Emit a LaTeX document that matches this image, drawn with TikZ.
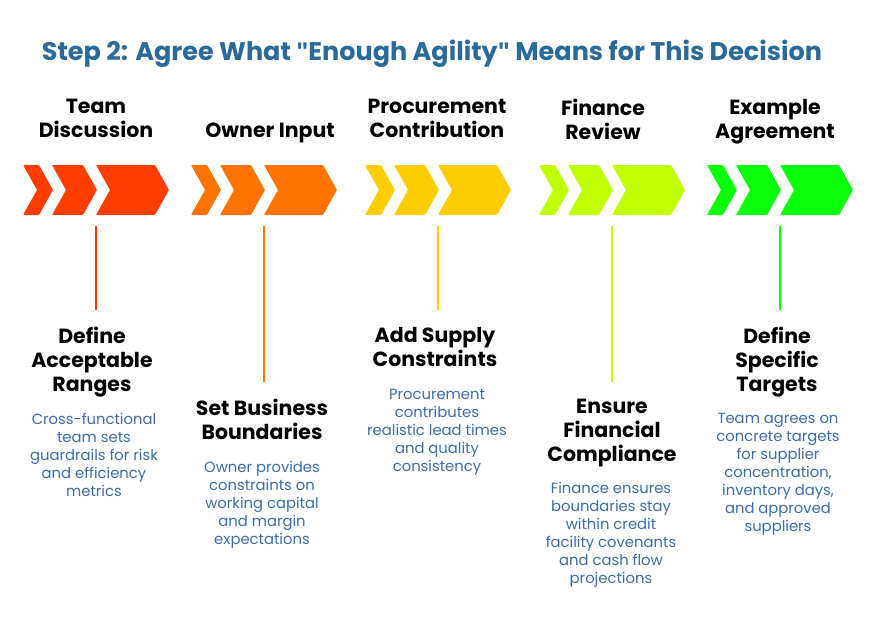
\documentclass[tikz,border=0pt]{standalone}
\usepackage{fontspec}
\setmainfont{Poppins}
\newfontfamily\qfont{Liberation Sans}
\definecolor{c1}{HTML}{FF3D00}
\definecolor{c2}{HTML}{FF7300}
\definecolor{c3}{HTML}{FFCC00}
\definecolor{c4}{HTML}{BFFF00}
\definecolor{c5}{HTML}{0AFF0A}
\definecolor{ttl}{HTML}{2A6A99}
\definecolor{dsc}{HTML}{3A6EA5}
\tikzset{
 hd/.style={anchor=north,inner sep=0,align=center,font=\fontsize{20.5}{24}\selectfont\bfseries,text=black},
 ds/.style={anchor=north,inner sep=0,align=center,font=\fontsize{14.8}{18}\selectfont,text=dsc},
 ln/.style={line width=1.2pt},
}
\newcommand{\chev}[3]{% start x, width, color
 \fill[#3,rounded corners=1pt] (#1,165) -- (#1+#2-14,165) -- (#1+#2,190) -- (#1+#2-14,215) -- (#1,215) -- (#1+14,190) -- cycle;}
\newcommand{\grp}[2]{\chev{#1}{30}{#2}\chev{#1+29}{45}{#2}\chev{#1+73}{73}{#2}}
\newcommand{\sq}{{\qfont\bfseries\symbol{34}}}
\begin{document}
\begin{tikzpicture}[x=1pt,y=-1pt]
\useasboundingbox (0,0) rectangle (876,624);
\node[anchor=center,font=\fontsize{25.5}{28}\selectfont\bfseries,text=ttl] (title) at (432,54) {Step 2: Agree What \sq Enough Agility\sq{} Means for This Decision};
\grp{23}{c1}\grp{191}{c2}\grp{365}{c3}\grp{539}{c4}\grp{707}{c5}
% top headings
\node[hd] (t1) at (96,99) {Team\\Discussion};
\node[hd] (t2) at (270,123) {Owner Input};
\node[hd] (t3) at (437,99) {Procurement\\Contribution};
\node[hd] (t4) at (603,99) {Finance\\Review};
\node[hd] (t5) at (775,99) {Example\\Agreement};
% lines
\coordinate (a1) at (96,226); \coordinate (b1) at (96,310);
\coordinate (a2) at (264,226); \coordinate (b2) at (264,382);
\coordinate (a3) at (438,226); \coordinate (b3) at (438,310);
\coordinate (a4) at (612,226); \coordinate (b4) at (612,382);
\coordinate (a5) at (780,226); \coordinate (b5) at (780,310);
\draw[ln,c1] (a1) -- (b1);
\draw[ln,c2] (a2) -- (b2);
\draw[ln,c3] (a3) -- (b3);
\draw[ln,c4] (a4) -- (b4);
\draw[ln,c5] (a5) -- (b5);
% lower headings
\node[hd] (h1) at (92,327) {Define\\Acceptable\\Ranges};
\node[hd] (h2) at (262,399) {Set Business\\Boundaries};
\node[hd] (h3) at (435,327) {Add Supply\\Constraints};
\node[hd] (h4) at (612,399) {Ensure\\Financial\\Compliance};
\node[hd] (h5) at (777,327) {Define\\Specific\\Targets};
% descriptions
\node[ds] (d1) at (94,413) {Cross-functional\\team sets\\guardrails for risk\\and efficiency\\metrics};
\node[ds] (d2) at (262,461) {Owner provides\\constraints on\\working capital\\and margin\\expectations};
\node[ds] (d3) at (437,389) {Procurement\\contributes\\realistic lead times\\and quality\\consistency};
\node[ds] (d4) at (611,482) {Finance ensures\\boundaries stay\\within credit\\facility covenants\\and cash flow\\projections};
\node[ds] (d5) at (778,413) {Team agrees on\\concrete targets\\for supplier\\concentration,\\inventory days,\\and approved\\suppliers};
\end{tikzpicture}
\end{document}
